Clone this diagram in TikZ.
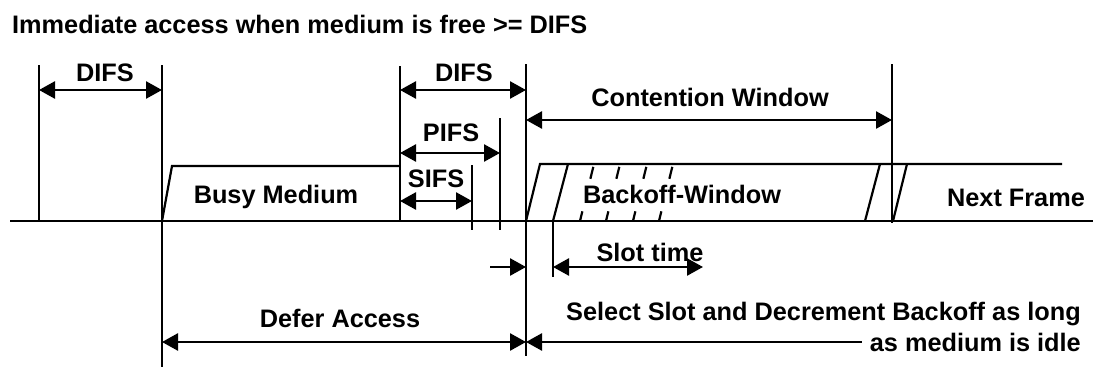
\documentclass[tikz,border=0pt]{standalone}
\usepackage{fontspec}
\setmainfont{Liberation Sans}
\usetikzlibrary{arrows.meta,calc}
\begin{document}
\begin{tikzpicture}[x=1pt,y=-1pt,
  ln/.style={line width=2.6pt},
  sl/.style={line width=2.2pt},
  dimarrow/.style={line width=2.6pt,{Triangle[length=16pt,width=17pt]}-{Triangle[length=16pt,width=17pt]}},
  rarrow/.style={line width=2.6pt,-{Triangle[length=16pt,width=17pt]}},
  larrow/.style={line width=2.6pt,{Triangle[length=16pt,width=17pt]}-},
  lbl/.style={font=\fontsize{25.3}{30}\selectfont\bfseries,inner sep=0pt,anchor=base}]
\useasboundingbox[fill=white] (0,0) rectangle (1093,367);
% title
\node[lbl,anchor=base west] (title) at (12,33) {Immediate access when medium is free >= DIFS};
% baseline
\coordinate (bl0) at (10,221);
\coordinate (bl1) at (1093,221);
\draw[ln] (bl0) -- (bl1);
% vertical markers
\coordinate (a0) at (39,65);   \coordinate (a1) at (39,221);
\coordinate (b0) at (162,65);  \coordinate (b1) at (162,367);
\coordinate (c0) at (400,66);  \coordinate (c1) at (400,221);
\coordinate (d0) at (500,118); \coordinate (d1) at (500,230);
\coordinate (e0) at (472,165); \coordinate (e1) at (472,230);
\coordinate (f0) at (526,64);  \coordinate (f1) at (526,356);
\coordinate (g0) at (553,221); \coordinate (g1) at (553,277);
\coordinate (h0) at (892,64);  \coordinate (h1) at (892,223);
\foreach \v in {a,b,c,d,e,f,g,h} {\draw[ln] (\v0) -- (\v1);}
% busy medium
\coordinate (bm0) at (162,221);
\coordinate (bm1) at (172,166);
\coordinate (bm2) at (400,166);
\draw[sl] (bm0) -- (bm1) -- (bm2);
\node[lbl] (busy) at (276,203) {Busy Medium};
% backoff window / next frame
\coordinate (bw0) at (526,221);
\coordinate (bw1) at (540,164);
\coordinate (bw2) at (1062,164);
\draw[sl] (bw0) -- (bw1) -- (bw2);
\coordinate (s0) at (553,221); \coordinate (s1) at (568,164);
\draw[sl] (s0) -- (s1);
\coordinate (r0) at (865,221); \coordinate (r1) at (880,164);
\draw[sl] (r0) -- (r1);
\coordinate (q0) at (893,221); \coordinate (q1) at (907,164);
\draw[sl] (q0) -- (q1);
\foreach \x in {580,606,633,659} {
  \draw[sl] (\x,221) -- ($(\x,221)!0.17!(\x+14,164)$);
  \draw[sl] ($(\x,221)!0.74!(\x+14,164)$) -- ($(\x,221)!0.95!(\x+14,164)$);
}
\node[lbl] (bwin) at (682,203) {Backoff-Window};
\node[lbl] (next) at (1016,206) {Next Frame};
% DIFS / PIFS / SIFS
\coordinate (difs1L) at (39,90);   \coordinate (difs1R) at (162,90);
\draw[dimarrow] (difs1L) -- (difs1R);
\node[lbl] (ldifs1) at (105,81) {DIFS};
\coordinate (difs2L) at (400,90);  \coordinate (difs2R) at (526,90);
\draw[dimarrow] (difs2L) -- (difs2R);
\node[lbl] (ldifs2) at (464,81) {DIFS};
\coordinate (pifsL) at (400,153);  \coordinate (pifsR) at (500,153);
\draw[dimarrow] (pifsL) -- (pifsR);
\node[lbl] (lpifs) at (451,141) {PIFS};
\coordinate (sifsL) at (400,201);  \coordinate (sifsR) at (472,201);
\draw[dimarrow] (sifsL) -- (sifsR);
\node[lbl] (lsifs) at (436,187) {SIFS};
% contention window
\coordinate (cwL) at (526,120);  \coordinate (cwR) at (892,120);
\draw[dimarrow] (cwL) -- (cwR);
\node[lbl] (lcw) at (710,106) {Contention Window};
% slot time
\coordinate (st0) at (490,267); \coordinate (st1) at (526,267);
\draw[rarrow] (st0) -- (st1);
\coordinate (st2) at (553,267); \coordinate (st3) at (703,267);
\draw[dimarrow] (st2) -- (st3);
\node[lbl] (lslot) at (650,261) {Slot time};
% defer access
\coordinate (daL) at (162,342); \coordinate (daR) at (526,342);
\draw[dimarrow] (daL) -- (daR);
\node[lbl] (lda) at (340,327) {Defer Access};
\coordinate (selL) at (526,342); \coordinate (selR) at (862,342);
\draw[larrow] (selL) -- (selR);
\node[lbl,anchor=base east] (lsel1) at (1081,320) {Select Slot and Decrement Backoff as long};
\node[lbl,anchor=base east] (lsel2) at (1081,351) {as medium is idle};
\end{tikzpicture}
\end{document}
